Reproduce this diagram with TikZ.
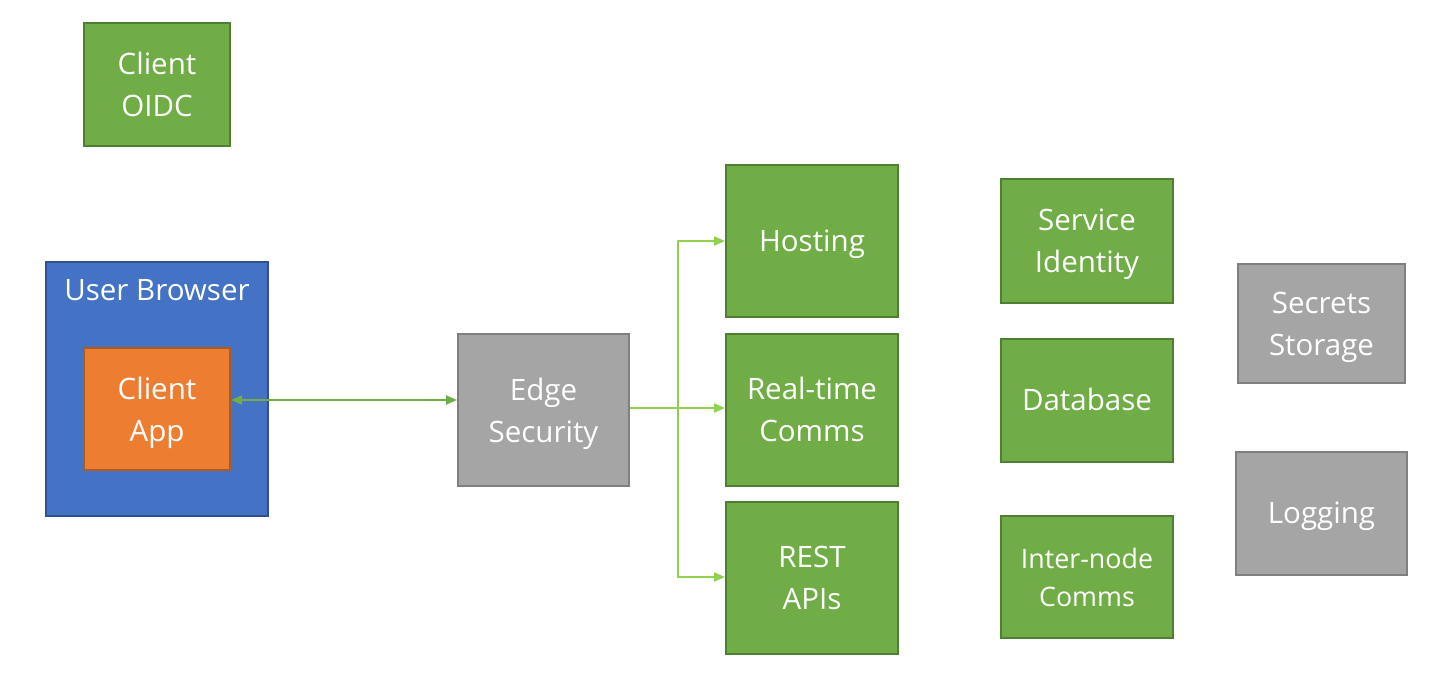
\documentclass[tikz,border=0pt]{standalone}
\usepackage{fontspec}
\setmainfont{Open Sans}
\usetikzlibrary{arrows.meta,positioning,calc}
\definecolor{boxgreen}{HTML}{70AD47}
\definecolor{boxgreenline}{HTML}{507E32}
\definecolor{boxgray}{HTML}{A5A5A5}
\definecolor{boxgrayline}{HTML}{7F7F7F}
\definecolor{boxblue}{HTML}{4472C4}
\definecolor{boxblueline}{HTML}{2F528F}
\definecolor{boxorange}{HTML}{ED7D31}
\definecolor{boxorangeline}{HTML}{AE5A21}
\definecolor{linkgreen}{HTML}{92D050}
\tikzset{
  boxtext/.style={text=white, font=\fontsize{29.5}{42}\selectfont, inner sep=0pt},
  multi/.style={align=center, text depth=0pt},
  single/.style={text height=26pt, text depth=6pt},
  box/.style={boxtext, draw, line width=2pt},
  greenbox/.style={box, fill=boxgreen, draw=boxgreenline},
  graybox/.style={box, fill=boxgray, draw=boxgrayline},
  link/.style={-{Triangle[length=11pt,width=9pt]}, line width=2pt, draw=linkgreen},
}
\begin{document}
\begin{tikzpicture}[x=1pt,y=-1pt]
  \useasboundingbox (0,0) rectangle (1436,675);
  % left column
  \node[greenbox, multi, minimum width=146pt, minimum height=123pt] (oidc) at (157,84.5) {Client\\OIDC};
  \node[box, fill=boxblue, draw=boxblueline, minimum width=222pt, minimum height=254pt] (browser) at (157,389) {};
  \node[boxtext, anchor=base] (browsertitle) at (157,300) {User Browser};
  \node[box, multi, fill=boxorange, draw=boxorangeline, minimum width=146pt, minimum height=122pt] (app) at (157,409) {Client\\App};
  % edge
  \node[graybox, multi, minimum width=171pt, minimum height=152pt] (edge) at (543.5,410) {Edge\\Security};
  % services
  \node[greenbox, multi, minimum width=172pt, minimum height=152pt] (realtime) at (812,409.5) {Real-time\\Comms};
  \node[greenbox, single, minimum width=172pt, minimum height=152pt, above = 14.5pt of realtime] (hosting) {Hosting};
  \node[greenbox, multi, minimum width=172pt, minimum height=152pt, below = 14.5pt of realtime] (rest) {REST\\APIs};
  % backend
  \node[greenbox, multi, minimum width=172pt, minimum height=124pt] (identity) at (1087,241) {Service\\Identity};
  \node[greenbox, single, minimum width=172pt, minimum height=123pt] (database) at (1087,400.5) {Database};
  \node[greenbox, multi, minimum width=172pt, minimum height=122pt, font=\fontsize{26.8}{38}\selectfont] (internode) at (1087,577) {Inter-node\\Comms};
  \node[graybox, multi, minimum width=167pt, minimum height=119pt] (secrets) at (1321.5,323.5) {Secrets\\Storage};
  \node[graybox, single, minimum width=171pt, minimum height=123pt] (logging) at (1321.5,513.5) {Logging};
  % connectors
  \draw[{Triangle[length=11pt,width=9pt]}-{Triangle[length=11pt,width=9pt]}, line width=2pt, draw=boxgreen]
    (app.east |- 0,400) -- (edge.west |- 0,400);
  \coordinate (split) at (678,408);
  \draw[line width=2pt, draw=linkgreen] (edge.east |- split) -- (split);
  \draw[link] (split) |- (hosting.west |- 0,241);
  \draw[link] (split) -- (realtime.west |- split);
  \draw[link] (split) |- (rest.west |- 0,577);
\end{tikzpicture}
\end{document}
